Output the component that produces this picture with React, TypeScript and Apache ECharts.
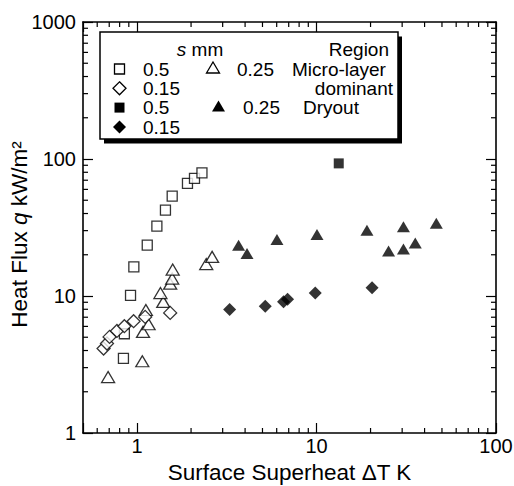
import React, { useEffect, useRef } from "react";
import * as echarts from "echarts";

const FONT = "'Liberation Sans', Arial, Helvetica, sans-serif";

// Micro-layer dominant region (open symbols)
const microSq05: [number, number][] = [
  [0.84, 3.5], [0.85, 5.3], [0.92, 10.1], [0.96, 16.3], [1.14, 23.5], [1.29, 32.4],
  [1.44, 42.4], [1.57, 53.6], [1.91, 66.3], [2.09, 72.2], [2.3, 79.3],
];
const microTri025: [number, number][] = [
  [0.69, 2.56], [1.07, 3.34], [1.08, 5.47], [1.16, 6.22], [1.12, 7.9], [1.4, 9.06],
  [1.35, 10.5], [1.53, 12.3], [1.57, 13.4], [1.58, 15.6], [2.43, 17.1], [2.62, 19.3],
];
const microDia015: [number, number][] = [
  [0.651, 4.14], [0.68, 4.5], [0.703, 5.03], [0.773, 5.56], [0.85, 6.02], [0.957, 6.55],
  [1.11, 7.04], [1.53, 7.53],
];
// Dryout region (filled symbols)
const drySq05: [number, number][] = [[13.3, 92.9]];
const dryTri025: [number, number][] = [
  [3.68, 23.5], [4.1, 20.4], [6.02, 25.9], [10.06, 28.1], [19.1, 30.2], [25.2, 21.3],
  [30.5, 32.0], [30.5, 22.0], [35.5, 24.4], [46.5, 33.9],
];
const dryDia015: [number, number][] = [
  [3.28, 7.97], [5.18, 8.43], [6.55, 9.06], [6.9, 9.48], [9.84, 10.5], [20.4, 11.5],
];

const xMinorTicks = [0.6, 0.7, 0.8, 0.9, 2, 3, 4, 5, 6, 7, 8, 9, 20, 30, 40, 50, 60, 70, 80, 90];
const yMinorTicks = [2, 3, 4, 5, 6, 7, 8, 9, 20, 30, 40, 50, 60, 70, 80, 90, 200, 300, 400, 500, 600, 700, 800, 900];

const X_MIN = 0.5, X_MAX = 100, Y_MIN = 1, Y_MAX = 1000;

const decadeFormatter = (v: number) => {
  const l = Math.log10(v);
  return Math.abs(l - Math.round(l)) < 1e-6 ? String(Math.round(v)) : "";
};

export default function App() {
  const ref = useRef<HTMLDivElement>(null);
  useEffect(() => {
    if (!ref.current) return;
    const chart = echarts.init(ref.current, undefined, { renderer: "svg" });
    const axisLine = { show: true, onZero: false, lineStyle: { color: "#000", width: 1.6 } };
    const axisTick = { show: true, inside: true, length: 10, lineStyle: { color: "#000", width: 1.2 } };
    const labelStyle = { fontSize: 20, color: "#000", fontFamily: FONT };
    const openStyle = { color: "#fff", borderColor: "#000", borderWidth: 1.3 };
    const fillStyle = { color: "#000", borderColor: "#000", borderWidth: 0 };

    const tickData: number[][] = [
      ...xMinorTicks.map((v) => [v, Y_MIN, 0]),
      ...yMinorTicks.map((v) => [X_MIN, v, 1]),
    ];

    const txt = (x: number, y: number, text: string, align = "left", extra: any = {}) => ({
      type: "text",
      x,
      y,
      silent: true,
      style: {
        text,
        fill: "#000",
        fontSize: 19,
        fontFamily: FONT,
        align,
        verticalAlign: "middle",
        ...extra,
      },
    });
    const diamond = (cx: number, cy: number, r: number, filled: boolean) => ({
      type: "polygon",
      shape: { points: [[cx, cy - r], [cx + r, cy], [cx, cy + r], [cx - r, cy]] },
      style: filled ? { fill: "#000" } : { fill: "#fff", stroke: "#000", lineWidth: 1.3 },
    });
    const tri = (cx: number, cy: number, w: number, h: number, filled: boolean) => ({
      type: "polygon",
      shape: { points: [[cx, cy - h / 2], [cx + w / 2, cy + h / 2], [cx - w / 2, cy + h / 2]] },
      style: filled ? { fill: "#000" } : { fill: "#fff", stroke: "#000", lineWidth: 1.3 },
    });
    const sq = (cx: number, cy: number, s: number, filled: boolean) => ({
      type: "rect",
      shape: { x: cx - s / 2, y: cy - s / 2, width: s, height: s },
      style: filled ? { fill: "#000" } : { fill: "#fff", stroke: "#000", lineWidth: 1.3 },
    });

    const R1 = 69, R2 = 88.3, R3 = 107.6, R4 = 127;

    chart.setOption({
      animation: false,
      backgroundColor: "#fff",
      grid: { left: 83, right: 18, top: 22, bottom: 53, containLabel: false, outerBoundsMode: "none" },
      xAxis: [
        {
          type: "log",
          logBase: 10,
          min: X_MIN,
          max: X_MAX,
          position: "bottom",
          axisLine,
          axisTick,
          splitLine: { show: false },
          axisLabel: { ...labelStyle, margin: 3, formatter: decadeFormatter },
          name: "Surface Superheat ΔT K",
          nameLocation: "middle",
          nameGap: 28,
          nameMoveOverlap: false,
          nameTextStyle: { fontSize: 22.5, color: "#000", fontFamily: FONT },
        },
        {
          type: "log",
          logBase: 10,
          min: X_MIN,
          max: X_MAX,
          position: "top",
          axisLine,
          axisTick,
          splitLine: { show: false },
          axisLabel: { show: false },
        },
      ],
      yAxis: [
        {
          type: "log",
          logBase: 10,
          min: Y_MIN,
          max: Y_MAX,
          position: "left",
          axisLine,
          axisTick,
          splitLine: { show: false },
          axisLabel: { ...labelStyle, margin: 7, formatter: decadeFormatter },
          name: "{n|Heat Flux }{i|q}{n| kW/m²}",
          nameLocation: "middle",
          nameGap: 52,
          nameMoveOverlap: false,
          nameTextStyle: {
            fontSize: 22.5,
            color: "#000",
            fontFamily: FONT,
            padding: [0, 14, 0, 0],
            rich: {
              n: { fontSize: 22.5, color: "#000", fontFamily: FONT },
              i: { fontSize: 22.5, color: "#000", fontFamily: FONT, fontStyle: "italic" },
            },
          },
        },
        {
          type: "log",
          logBase: 10,
          min: Y_MIN,
          max: Y_MAX,
          position: "right",
          axisLine,
          axisTick,
          splitLine: { show: false },
          axisLabel: { show: false },
        },
      ],
      series: [
        {
          type: "custom",
          xAxisIndex: 0,
          yAxisIndex: 0,
          silent: true,
          clip: false,
          encode: { x: 0, y: 1 },
          data: tickData,
          renderItem: (_params: any, api: any) => {
            const v0 = api.value(0);
            const v1 = api.value(1);
            const kind = api.value(2);
            const L = 5;
            const st = { stroke: "#000", lineWidth: 1.2 };
            if (kind === 0) {
              const a = api.coord([v0, Y_MIN]);
              const b = api.coord([v0, Y_MAX]);
              return {
                type: "group",
                children: [
                  { type: "line", shape: { x1: a[0], y1: a[1], x2: a[0], y2: a[1] - L }, style: st },
                  { type: "line", shape: { x1: b[0], y1: b[1], x2: b[0], y2: b[1] + L }, style: st },
                ],
              };
            }
            const a = api.coord([X_MIN, v1]);
            const b = api.coord([X_MAX, v1]);
            return {
              type: "group",
              children: [
                { type: "line", shape: { x1: a[0], y1: a[1], x2: a[0] + L, y2: a[1] }, style: st },
                { type: "line", shape: { x1: b[0], y1: b[1], x2: b[0] - L, y2: b[1] }, style: st },
              ],
            };
          },
        },
        { name: "0.5 micro", type: "scatter", data: microSq05, symbol: "rect", symbolSize: 10, itemStyle: openStyle },
        { name: "0.25 micro", type: "scatter", data: microTri025, symbol: "triangle", symbolSize: [13, 11], itemStyle: openStyle },
        { name: "0.15 micro", type: "scatter", data: microDia015, symbol: "diamond", symbolSize: [13, 13], itemStyle: openStyle },
        { name: "0.5 dryout", type: "scatter", data: drySq05, symbol: "rect", symbolSize: 10, itemStyle: fillStyle },
        { name: "0.25 dryout", type: "scatter", data: dryTri025, symbol: "triangle", symbolSize: [13, 11], itemStyle: fillStyle },
        { name: "0.15 dryout", type: "scatter", data: dryDia015, symbol: "diamond", symbolSize: [13, 13], itemStyle: fillStyle },
      ],
      graphic: [
        { type: "rect", silent: true, shape: { x: 104, y: 36.5, width: 298, height: 107 }, style: { fill: "#000" } },
        { type: "rect", silent: true, shape: { x: 100, y: 32, width: 298, height: 107 }, style: { fill: "#fff", stroke: "#000", lineWidth: 1.5 } },
        txt(200, 49.5, "{i|s} mm", "center", {
          rich: { i: { fontStyle: "italic", fontSize: 19, fontFamily: FONT, fill: "#000" } },
        }),
        txt(389, 49.5, "Region", "right"),
        sq(119.5, R1, 10, false),
        txt(143, R1, "0.5"),
        tri(213, R1 - 1.5, 13, 11, false),
        txt(237, R1, "0.25"),
        txt(292, R1, "Micro-layer"),
        diamond(119.5, R2, 6.5, false),
        txt(143, R2, "0.15"),
        txt(393, R2, "dominant", "right"),
        sq(119.5, R3, 10, true),
        txt(143, R3, "0.5"),
        tri(218.5, R3 - 1.5, 13, 11, true),
        txt(243, R3, "0.25"),
        txt(303, R3, "Dryout"),
        diamond(119.5, R4, 6.5, true),
        txt(143, R4, "0.15"),
      ],
    });
    return () => chart.dispose();
  }, []);
  return (
    <div
      ref={ref}
      style={{ position: "fixed", left: 0, top: 0, width: 514, height: 486, background: "#fff" }}
    />
  );
}
